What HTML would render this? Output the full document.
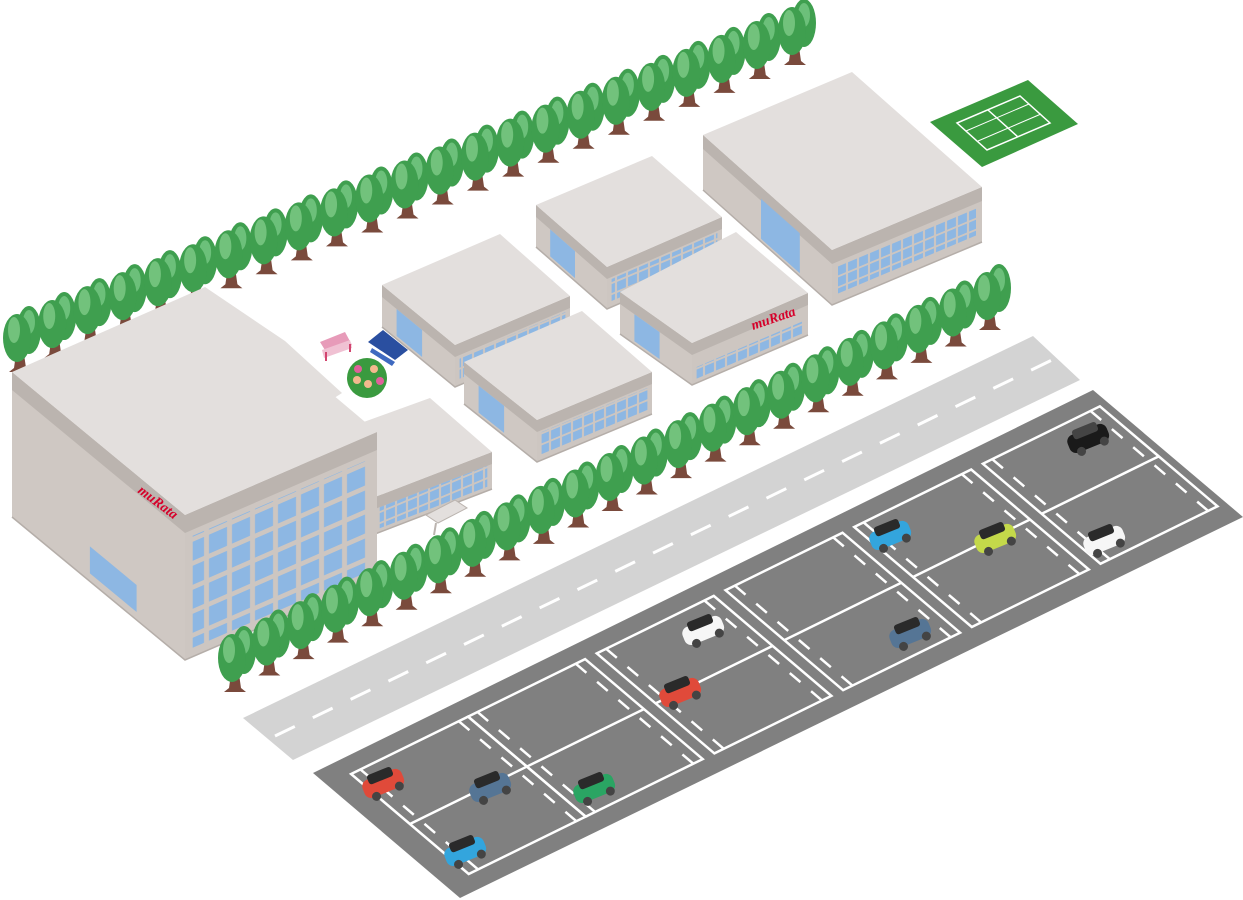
<!DOCTYPE html>
<html><head><meta charset="utf-8"><style>html,body{margin:0;padding:0;background:#fff}svg{display:block}</style></head>
<body>
<svg id="s" xmlns="http://www.w3.org/2000/svg" width="1243" height="900" viewBox="0 0 1243 900">
<defs>
<pattern id="wb" patternUnits="userSpaceOnUse" width="23" height="24" patternTransform="skewY(-23.6)"><rect x="2" y="2" width="18" height="19" fill="#8db7e3"/></pattern>
<pattern id="ws" patternUnits="userSpaceOnUse" width="11" height="11" patternTransform="skewY(-22.7)"><rect x="1" y="1" width="9" height="9" fill="#8db7e3"/></pattern>
</defs>
<g id="trees1"></g>
<g id="bld"></g>
<g id="extra">
  <polygon points="320,342 345,332 352,345 328,355" fill="#e79bb9"/>
  <polygon points="322,350 350,340 352,348 324,358" fill="#f0c1d3"/>
  <line x1="326" y1="352" x2="326" y2="361" stroke="#d2456f" stroke-width="2"/>
  <line x1="350" y1="344" x2="350" y2="352" stroke="#d2456f" stroke-width="2"/>
  <polygon points="368,342 383,330 408,350 395,360" fill="#2a4fa0"/>
  <polygon points="372,348 395,362 392,366 370,352" fill="#3f6ac0"/>
  <circle cx="367" cy="378" r="20" fill="#3a9a3f"/>
  <circle cx="358" cy="369" r="4" fill="#e0609a"/><circle cx="374" cy="369" r="4" fill="#f3b98e"/>
  <circle cx="357" cy="380" r="4" fill="#f3b98e"/><circle cx="368" cy="384" r="4" fill="#f3b98e"/><circle cx="380" cy="381" r="4" fill="#e0609a"/>
  <polygon points="426,515 455,500 467,508 438,523" fill="#e3dfdd" stroke="#bbb4af"/>
  <line x1="436" y1="523" x2="434" y2="535" stroke="#bbb4af" stroke-width="2"/>
  <polygon points="930,122 1028,80 1078,124 982,167" fill="#3a9a3f"/>
  <polygon points="957,123 1020,96 1050,123 987,150" fill="none" stroke="#fff" stroke-width="1.5"/>
  <line x1="988" y1="110" x2="1018" y2="137" stroke="#fff" stroke-width="1.5"/>
  <line x1="966" y1="131" x2="1029" y2="104" stroke="#fff" stroke-width="1"/>
  <line x1="978" y1="141" x2="1041" y2="114" stroke="#fff" stroke-width="1"/>
</g>
<g id="trees2"></g>
<polygon points="243,718 1033,336 1080,380 293,760" fill="#d3d3d3"/>
<line x1="275" y1="736" x2="1052" y2="360" stroke="#fff" stroke-width="3" stroke-dasharray="22 20"/>
<polygon points="313,773 1093,390 1243,517 460,898" fill="#808080"/>
<g id="lot" stroke="#fff" stroke-width="2.5" fill="none"></g>
<g id="cars"></g>
<text x="0" y="0" transform="translate(137,492) rotate(37)" font-family="Liberation Serif, serif" font-style="italic" font-weight="bold" font-size="14" fill="#d6002a">muRata</text>
<text x="0" y="0" transform="translate(753,330) rotate(-19)" font-family="Liberation Serif, serif" font-style="italic" font-weight="bold" font-size="14" fill="#d6002a">muRata</text>
</svg>
<script>
var NS="http://www.w3.org/2000/svg";
function el(p,t,a){var e=document.createElementNS(NS,t);for(var k in a)e.setAttribute(k,a[k]);p.appendChild(e);return e;}
function pts(a){return a.map(function(p){return p[0].toFixed(1)+","+p[1].toFixed(1)}).join(" ");}
function L(a,b,t){return [a[0]+(b[0]-a[0])*t,a[1]+(b[1]-a[1])*t];}
function D(p,d){return [p[0],p[1]+d];}
function tree(g,x,y){
  el(g,"polygon",{points:pts([[x-4,y-18],[x+4,y-18],[x+6,y-4],[x+11,y],[x-11,y],[x-6,y-4]]),fill:"#7a4a3c"});
  el(g,"ellipse",{cx:x+9,cy:y-42,rx:12,ry:24,fill:"#3f9f4f"});
  el(g,"ellipse",{cx:x+9,cy:y-50,rx:6,ry:12,fill:"#6cc07a"});
  el(g,"ellipse",{cx:x-3,cy:y-34,rx:14,ry:24,fill:"#3f9f4f"});
  el(g,"ellipse",{cx:x-6,cy:y-42,rx:6,ry:13,fill:"#72c27c"});
}
var t1=document.getElementById("trees1"),t2=document.getElementById("trees2");
var n=23;
for(var i=0;i<n;i++){var p=L([20,372],[795,65],i/(n-1));tree(t1,p[0],p[1]);}
for(var i=0;i<n;i++){var p=L([235,692],[990,330],i/(n-1));tree(t2,p[0],p[1]);}
var B=document.getElementById("bld");
function block(p0,p1,p2,p3,h,band,big,w1,w2,door){
  el(B,"polygon",{points:pts([p0,p3,D(p3,h),D(p0,h)]),fill:"#cfc8c3"});
  el(B,"polygon",{points:pts([p3,p2,D(p2,h),D(p3,h)]),fill:"#cdc6c1"});
  el(B,"polygon",{points:pts([p0,p3,D(p3,band),D(p0,band)]),fill:"#bbb4af"});
  el(B,"polygon",{points:pts([p3,p2,D(p2,band),D(p3,band)]),fill:"#bbb4af"});
  el(B,"polygon",{points:pts([p0,p1,p2,p3]),fill:"#e3dfdd"});
  var a=L(p3,p2,0.04),b=L(p3,p2,0.96);
  el(B,"polygon",{points:pts([D(a,w1),D(b,w1),D(b,w2),D(a,w2)]),fill:big?"url(#wb)":"url(#ws)"});
  if(door){var c=L(p0,p3,door[0]),d=L(p0,p3,door[1]);var e=door[3]||3;
    el(B,"polygon",{points:pts([D(c,door[2]),D(d,door[2]),D(d,h-e),D(c,h-e)]),fill:"#8db7e3"});}
  el(B,"polyline",{points:pts([D(p0,h),D(p3,h),D(p2,h)]),fill:"none",stroke:"#b5aea9","stroke-width":1.5});
}
block([703,135],[852,72],[982,187],[832,250],55,14,false,18,46,[0.45,0.75,12]);
block([536,205],[652,156],[722,217],[607,267],42,12,false,14,36,[0.2,0.55,12]);
block([620,292],[736,232],[808,293],[692,343],42,12,false,26,38,[0.2,0.55,12]);
block([382,285],[500,234],[570,296],[455,345],42,12,false,14,36,[0.2,0.55,12]);
block([464,362],[582,311],[652,372],[537,420],42,12,false,14,36,[0.2,0.55,12]);
block([300,445],[430,398],[492,452],[375,497],37,12,false,12,33,null);
el(B,"polygon",{points:pts([[205,287],[285,341],[342,393],[300,420]]),fill:"#e3dfdd"});
block([12,372],[205,287],[377,432],[185,515],145,18,true,24,136,[0.45,0.72,110,8]);
var G=document.getElementById("lot");
function P(u,v){return [313+u*780+v*147,773-u*383+v*125];}
var us=[0.03,0.18,0.345,0.51,0.675,0.84];
us.forEach(function(u0){var u1=u0+0.15;
  el(G,"polygon",{points:pts([P(u0,0.1),P(u1,0.1),P(u1,0.9),P(u0,0.9)])});
  el(G,"line",{x1:P(u0,0.5)[0],y1:P(u0,0.5)[1],x2:P(u1,0.5)[0],y2:P(u1,0.5)[1]});
  [[u0+0.012],[u1-0.012]].forEach(function(q){var a=P(q[0],0.1),b=P(q[0],0.9);
    el(G,"line",{x1:a[0],y1:a[1],x2:b[0],y2:b[1],"stroke-dasharray":"14 14"});});
});
var C=document.getElementById("cars");
function car(x,y,col,roof){var g=el(C,"g",{transform:"translate("+x+","+y+") rotate(-22)"});
  el(g,"rect",{x:-21,y:-9,width:42,height:19,rx:7,fill:col});
  el(g,"rect",{x:-13,y:-13,width:26,height:10,rx:3,fill:roof});
  el(g,"circle",{cx:-11,cy:10,r:4.5,fill:"#444"});el(g,"circle",{cx:14,cy:9,r:4.5,fill:"#444"});}
[[383,783,"#e04a3a"],[490,787,"#557595"],[594,788,"#2aa563"],[465,851,"#33a5dd"],[680,692,"#e04a3a"],[703,630,"#f6f6f6"],[910,633,"#557595"],[890,535,"#33a5dd"],[995,538,"#c4d94a"],[1104,540,"#f6f6f6"],[1088,438,"#1a1a1a"]].forEach(function(c){car(c[0],c[1],c[2],c[2]=="#1a1a1a"?"#444":"#2a2a2a");});
</script>
</body></html>
